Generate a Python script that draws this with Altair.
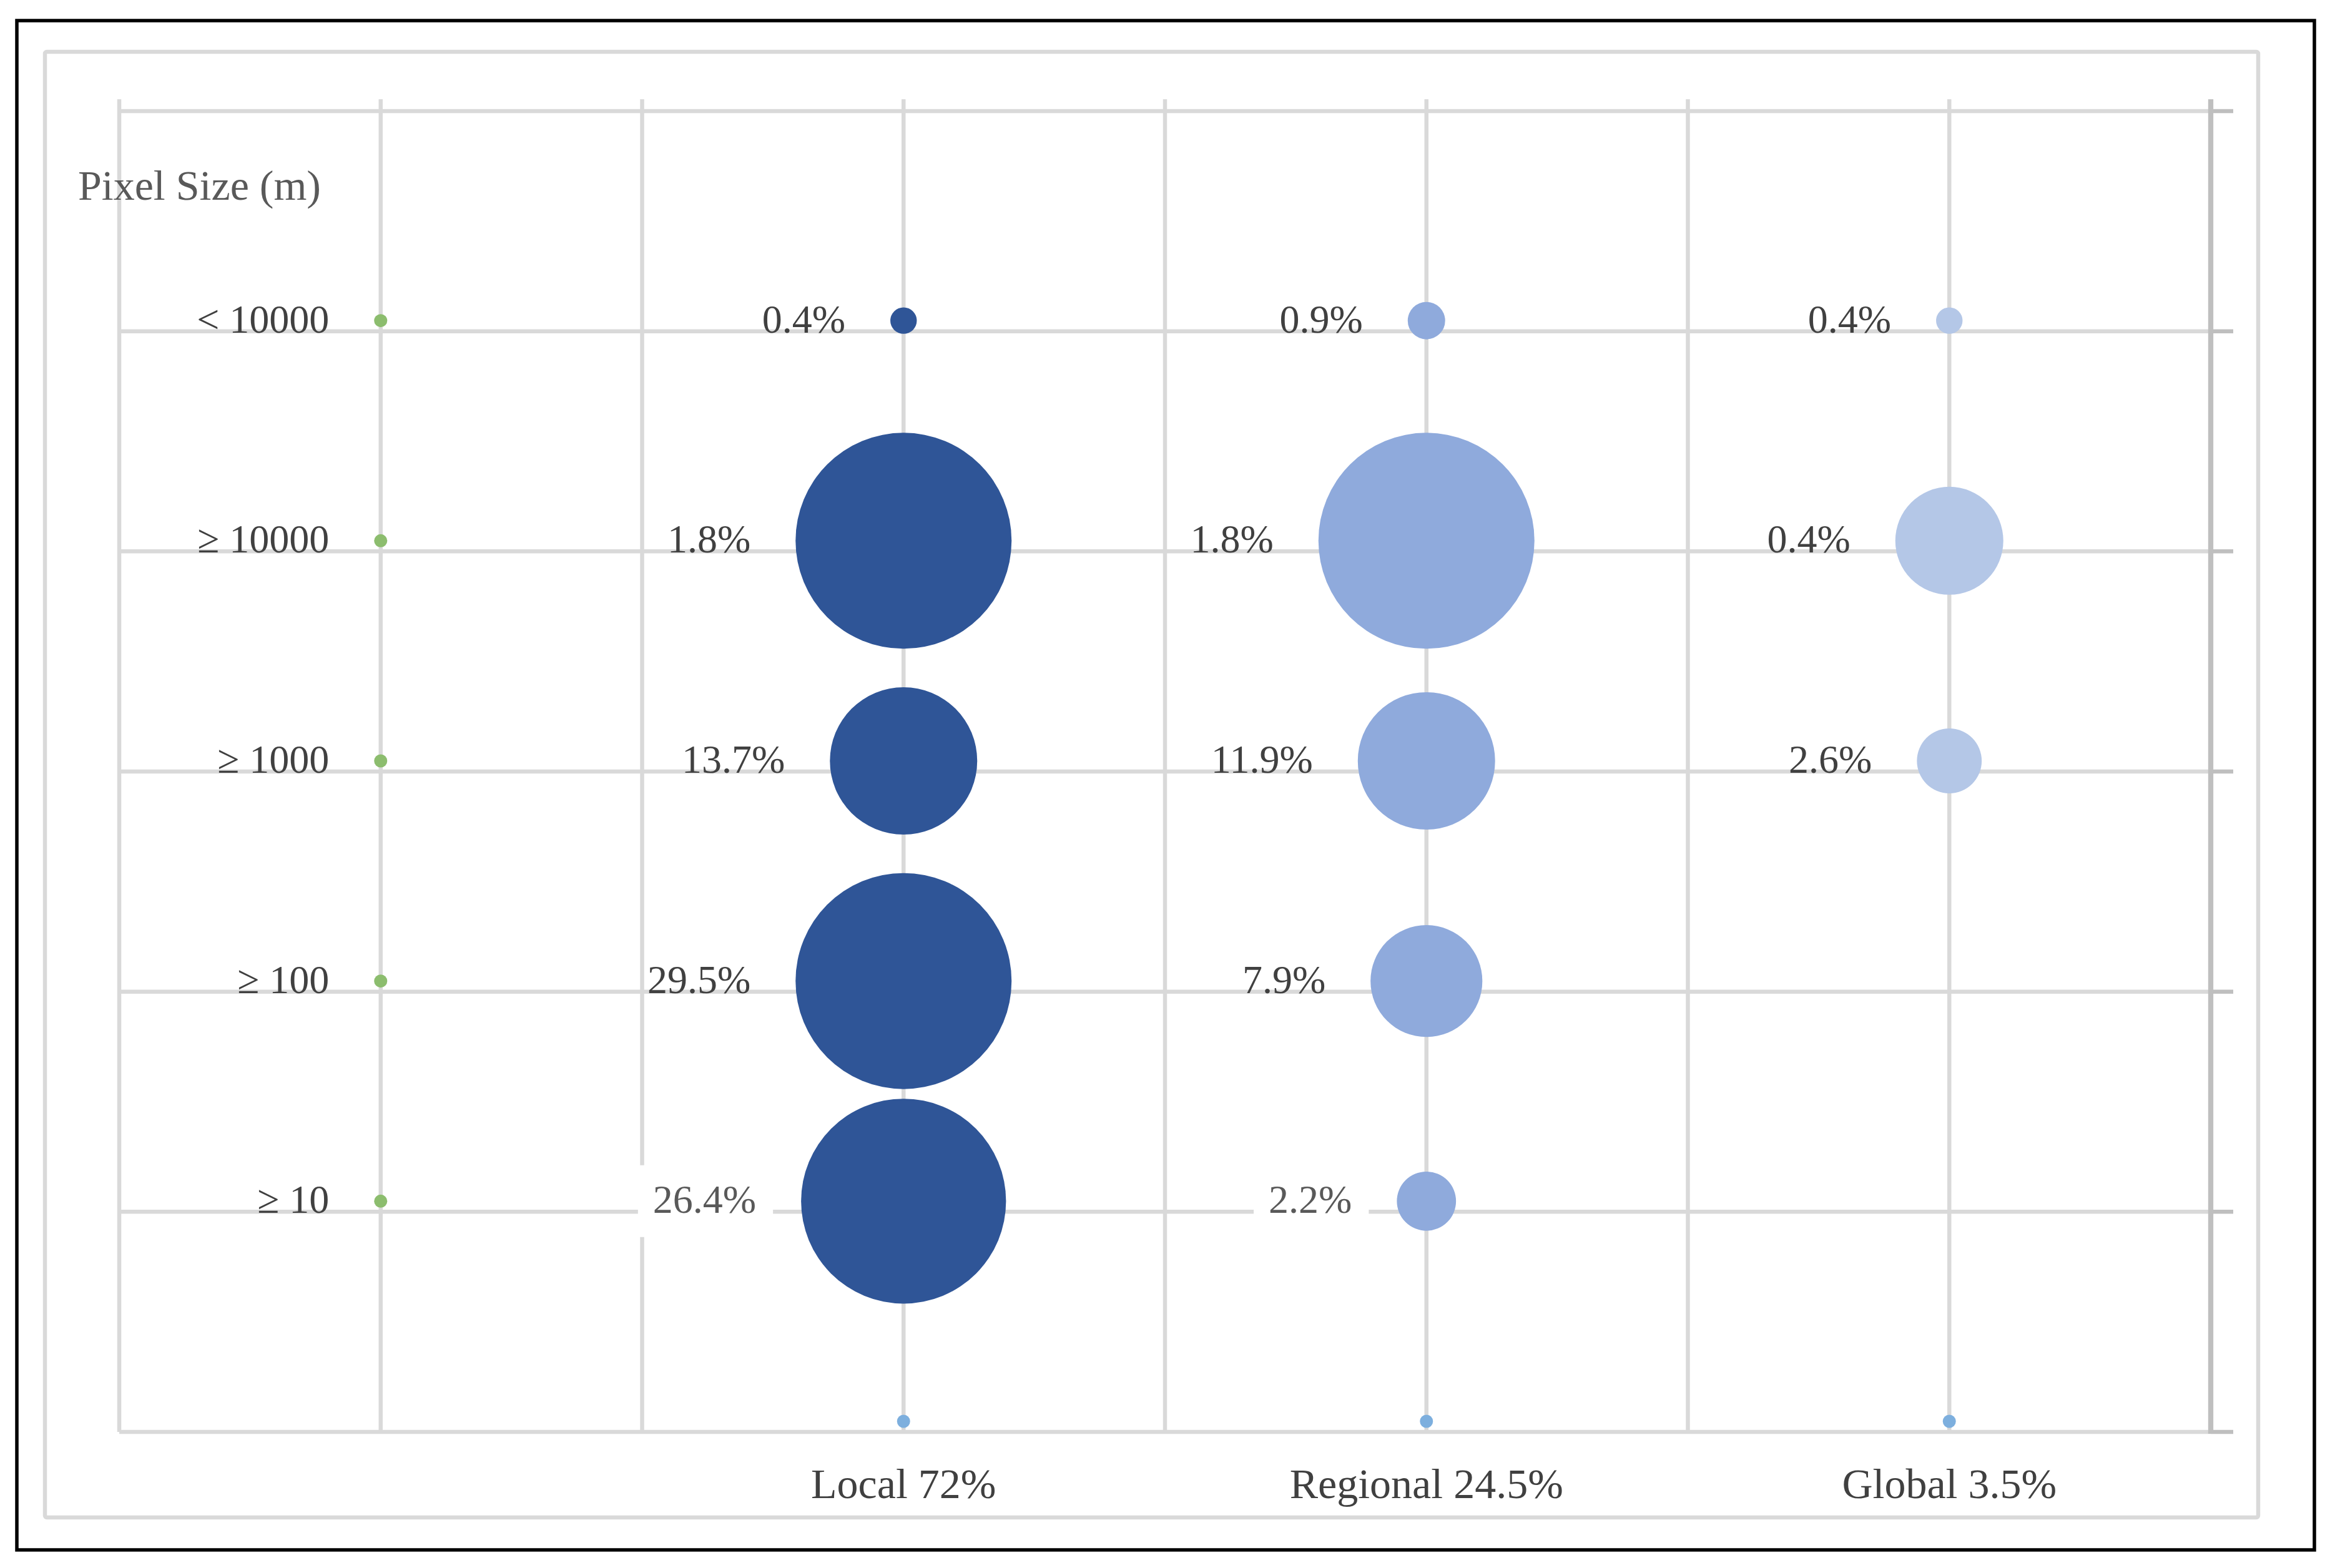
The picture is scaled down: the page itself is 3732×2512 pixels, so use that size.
import altair as alt
import pandas as pd
import math

# ---------------- data ----------------
row_labels = ["< 10000", "≥ 10000", "≥ 1000", "≥ 100", "≥ 10"]
row_levels = [5, 4, 3, 2, 1]

series_names = ["Local", "Regional", "Global"]
series_pos = [3, 5, 7]
series_totals = ["Local 72%", "Regional 24.5%", "Global 3.5%"]

local_pct = ["0.4%", "1.8%", "13.7%", "29.5%", "26.4%"]
local_size = [1.5, 100, 46.5, 100, 90]

regional_pct = ["0.9%", "1.8%", "11.9%", "7.9%", "2.2%"]
regional_size = [3.0, 100, 40.4, 26.8, 7.5]

global_pct = ["0.4%", "0.4%", "2.6%"]
global_size = [1.5, 25.0, 9.0]

anchor_size = 0.37
boxed_labels = [("Local", "≥ 10"), ("Regional", "≥ 10")]

x_grid = [0, 1, 2, 3, 4, 5, 6, 7, 8]
y_grid = [0, 1, 2, 3, 4, 5, 6]

# ---------------- layout / style ----------------
PLOT_W, PLOT_H = 3350, 2116
X_MAX, Y_MAX = 8, 6
MAX_DIAM = 346.0
LABEL_GAP = 72
Y_SHIFT = -17
FONT = "Liberation Serif"
GRID = "#D9D9D9"
AXIS = "#BFBFBF"
LW = 6.5
COLORS = {"Local": "#2F5597", "Regional": "#8FAADC", "Global": "#B4C7E7",
          "Rows": "#8CBD6E", "Totals": "#7DAFDE"}

px_x = PLOT_W / X_MAX
px_y = PLOT_H / Y_MAX

rows = []
for name, xpos, pcts, sizes in zip(series_names, series_pos,
                                   [local_pct, regional_pct, global_pct],
                                   [local_size, regional_size, global_size]):
    for rl, lv, p, s in zip(row_labels, row_levels, pcts, sizes):
        rows.append(dict(series=name, x=xpos, y=lv, size=s, label=p,
                         boxed=(name, rl) in boxed_labels))
for rl, lv in zip(row_labels, row_levels):
    rows.append(dict(series="Rows", x=1, y=lv, size=anchor_size, label=rl, boxed=False))
df = pd.DataFrame(rows)

char_w = {".": 16.0, "%": 53.3}
def text_w(s):
    return sum(char_w.get(c, 32.0) for c in s)

df["r_px"] = df["size"].apply(lambda v: math.sqrt(v / 100.0) * MAX_DIAM / 2)
df["lx"] = df["x"] - (df["r_px"] + LABEL_GAP) / px_x
box = df[df["boxed"]].copy()
box["bx2"] = box["lx"] + 27 / px_x
box["bx1"] = box["lx"] - (box["label"].apply(text_w) + 24) / px_x
box["by1"] = box["y"] - (Y_SHIFT + 57.5) / px_y
box["by2"] = box["y"] - (Y_SHIFT - 57.5) / px_y

totals = pd.DataFrame(dict(series="Totals", x=series_pos, y=[0] * 3,
                           size=[anchor_size] * 3, label=series_totals))
points = pd.concat([df[["series", "x", "y", "size"]], totals[["series", "x", "y", "size"]]])

gx = pd.DataFrame({"gx": x_grid})
gy = pd.DataFrame({"gy": y_grid})

xscale = alt.Scale(domain=[0, X_MAX], nice=False, zero=False)
yscale = alt.Scale(domain=[0, Y_MAX], nice=False, zero=False)
color_scale = alt.Scale(domain=list(COLORS.keys()), range=list(COLORS.values()))
size_scale = alt.Scale(domain=[0, 100], range=[0, MAX_DIAM ** 2], zero=True)

one = pd.DataFrame({"k": [0]})
outer = alt.Chart(one).mark_rect(fill="transparent", fillOpacity=0, stroke="black",
                                 strokeWidth=5.5).encode(
    x=alt.value(-164), x2=alt.value(3516), y=alt.value(-145), y2=alt.value(2305))
inner = alt.Chart(one).mark_rect(fill="transparent", fillOpacity=0, stroke=GRID,
                                 strokeWidth=6.5, cornerRadius=3).encode(
    x=alt.value(-119), x2=alt.value(3426), y=alt.value(-95), y2=alt.value(2253))

vgrid = alt.Chart(gx).mark_rule(color=GRID, strokeWidth=LW).encode(
    x=alt.X("gx:Q", scale=xscale, axis=None),
    y=alt.value(-19), y2=alt.value(PLOT_H))
hgrid = alt.Chart(gy).mark_rule(color=GRID, strokeWidth=LW).encode(
    y=alt.Y("gy:Q", scale=yscale, axis=None),
    x=alt.value(0), x2=alt.value(PLOT_W))
rticks = alt.Chart(gy).mark_rule(color=AXIS, strokeWidth=LW).encode(
    y=alt.Y("gy:Q", scale=yscale, axis=None),
    x=alt.value(PLOT_W), x2=alt.value(PLOT_W + 36))
rdomain = alt.Chart(one).mark_rule(color=AXIS, strokeWidth=8.3).encode(
    x=alt.value(PLOT_W), y=alt.value(-19), y2=alt.value(PLOT_H + 3))

bubbles = alt.Chart(points).mark_circle(opacity=1, yOffset=Y_SHIFT).encode(
    x=alt.X("x:Q", scale=xscale, axis=None),
    y=alt.Y("y:Q", scale=yscale, axis=None),
    size=alt.Size("size:Q", scale=size_scale, legend=None),
    color=alt.Color("series:N", scale=color_scale, legend=None),
)

boxes = alt.Chart(box).mark_rect(fill="white").encode(
    x=alt.X("bx1:Q", scale=xscale, axis=None), x2="bx2:Q",
    y=alt.Y("by1:Q", scale=yscale, axis=None), y2="by2:Q")

labels = alt.Chart(df).mark_text(font=FONT, fontSize=64, align="right", baseline="middle",
                                 yOffset=Y_SHIFT).encode(
    x=alt.X("lx:Q", scale=xscale, axis=None),
    y=alt.Y("y:Q", scale=yscale, axis=None),
    text="label:N",
    color=alt.condition("datum.boxed", alt.value("#595959"), alt.value("#404040")),
)

bottom = alt.Chart(totals).mark_text(font=FONT, fontSize=68, align="center",
                                     baseline="alphabetic", dy=106, color="#404040").encode(
    x=alt.X("x:Q", scale=xscale, axis=None),
    y=alt.Y("y:Q", scale=yscale, axis=None),
    text="label:N")

title_txt = alt.Chart(one).mark_text(font=FONT, fontSize=68, align="right",
                                     baseline="alphabetic", color="#595959",
                                     text="Pixel Size (m)").encode(
    x=alt.value(323), y=alt.value(142))

chart = alt.layer(vgrid, hgrid, rticks, rdomain, bubbles, boxes, labels, bottom,
                  title_txt, inner, outer).properties(
    width=PLOT_W, height=PLOT_H,
    padding={"left": 183, "top": 170, "right": 183, "bottom": 210},
    autosize=alt.AutoSizeParams(type="none"),
    background="white",
).configure_view(stroke=None)

chart.save("out.html", embed_options={"renderer": "svg", "actions": False})
